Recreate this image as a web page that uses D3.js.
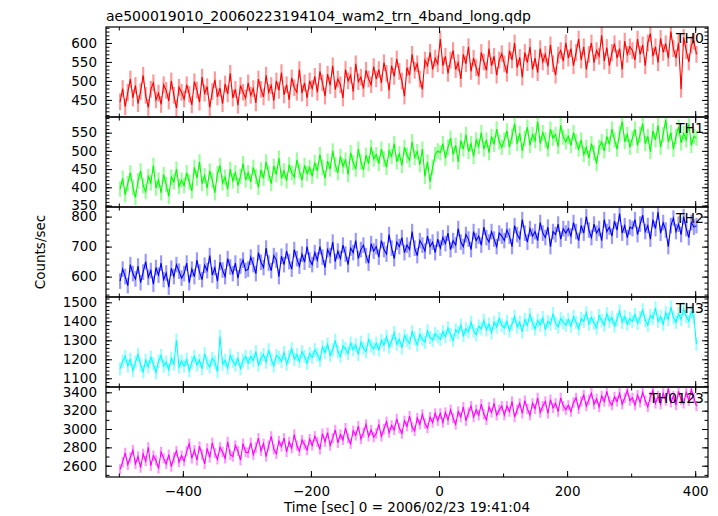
<!DOCTYPE html>
<html><head><meta charset="utf-8">
<script src="https://cdn.jsdelivr.net/npm/d3@7/dist/d3.min.js"></script>
<style>
body{margin:0;background:#fff}
svg{display:block}
text{font-family:"DejaVu Sans",sans-serif;fill:#000}
</style>
</head><body>
<svg id="chart" width="718" height="516"></svg>
<script>
const chartTitle = "ae500019010_20060223194104_wam2_trn_4band_long.qdp";
const xAxisTitle = "Time [sec] 0 = 2006/02/23 19:41:04";
const yAxisTitle = "Counts/sec";
const bandNames = ["TH0", "TH1", "TH2", "TH3", "TH0123"];
const timeStart = -498, binWidth = 4;

const th0Values = [
445,480,432,470,505,455,488,440,472,515,462,430,478,495,450,468,438,490,475,447,500,462,428,483,470,
452,490,465,437,498,476,444,510,468,485,430,472,503,458,481,440,492,466,520,455,478,436,488,470,455,
495,462,480,442,505,478,458,515,470,488,448,500,475,522,463,490,450,508,482,470,530,468,495,455,500,
480,512,470,525,495,460,518,488,540,477,505,490,455,530,500,515,472,545,498,510,480,528,505,490,538,
505,530,495,548,520,475,540,512,558,525,500,460,535,515,570,528,545,505,478,555,540,575,530,560,545,
610,540,565,520,555,580,530,548,505,570,545,590,525,560,535,512,575,550,528,585,540,565,515,555,572,
545,520,580,555,600,535,562,510,575,548,590,530,560,522,585,550,570,538,595,545,515,568,580,552,600,
560,585,540,575,610,555,590,530,570,600,548,580,565,620,552,588,540,575,598,560,585,530,605,570,590,
580,555,610,570,595,540,600,625,565,590,548,612,575,598,560,630,585,560,600,478,615,580,550,595,605,
570];
const th1Values = [
395,425,380,410,440,400,372,418,445,405,388,430,412,460,398,420,385,435,408,375,428,415,450,402,420,
405,440,415,390,455,425,470,410,432,398,445,420,385,438,460,412,428,395,450,418,440,405,430,465,420,
440,415,455,430,400,448,425,470,438,410,458,435,480,425,445,418,462,440,428,475,445,420,460,438,455,
430,468,445,490,455,425,472,450,500,462,440,485,458,475,435,495,468,450,505,470,448,488,465,510,478,
490,465,505,478,455,500,485,520,470,492,460,510,488,475,525,482,498,462,505,430,470,415,455,490,500,
495,520,480,510,535,490,515,470,528,505,545,498,520,485,530,512,550,505,530,495,540,518,560,525,510,
530,555,510,540,575,520,548,500,535,565,515,545,528,580,520,550,530,505,560,535,545,512,570,538,525,
540,515,550,525,505,530,490,510,480,520,495,465,510,525,500,540,518,560,530,505,548,580,525,545,510,
535,560,515,545,575,520,540,498,555,530,570,510,545,585,525,550,505,540,565,522,548,530,575,515,540,
535];
const th2Values = [
585,625,600,570,640,610,592,635,580,615,650,598,620,575,630,605,645,590,612,565,628,600,640,618,595,
610,645,580,625,600,655,615,590,638,620,670,605,630,585,648,622,600,660,632,610,645,595,635,655,620,
625,665,640,610,680,648,630,695,645,620,670,655,600,668,640,685,650,625,690,660,635,675,648,700,655,
640,680,655,700,665,630,690,670,715,650,685,660,705,675,640,695,680,720,660,690,705,670,645,710,685,
700,665,720,690,675,740,695,660,715,700,730,680,705,690,750,695,670,720,705,685,735,700,715,680,725,
695,730,710,745,690,720,705,760,715,700,740,725,690,750,720,735,705,765,730,715,750,725,700,745,735,
720,755,735,700,770,740,725,790,745,715,760,735,750,720,780,745,730,765,700,750,740,775,725,760,745,
760,735,780,750,720,770,745,800,755,730,775,745,760,720,790,750,765,735,785,755,810,745,770,730,765,
760,790,740,775,805,750,770,725,790,760,815,745,780,755,700,770,795,750,775,740,800,760,730,780,765,
770];
const th3Values = [
1150,1190,1215,1165,1200,1140,1185,1225,1170,1135,1195,1160,1210,1175,1130,1190,1220,1165,1185,1145,1205,1175,1300,1160,1190,
1165,1200,1140,1185,1215,1170,1195,1150,1230,1180,1160,1205,1185,1135,1320,1175,1195,1155,1220,1190,1170,1205,1150,1195,1215,
1180,1215,1195,1240,1170,1205,1225,1185,1250,1200,1165,1220,1210,1190,1235,1175,1215,1255,1200,1225,1190,1240,1215,1180,1230,
1210,1250,1225,1195,1265,1235,1280,1220,1250,1300,1240,1215,1270,1255,1230,1285,1250,1275,1225,1290,1260,1240,1305,1270,1255,
1285,1250,1300,1275,1320,1265,1295,1340,1280,1305,1260,1325,1300,1285,1345,1310,1275,1330,1305,1290,1350,1315,1300,1335,1320,
1305,1345,1320,1365,1330,1300,1355,1340,1380,1325,1360,1345,1395,1350,1330,1375,1360,1405,1355,1385,1340,1395,1370,1415,1380,
1365,1400,1350,1385,1425,1370,1395,1345,1410,1380,1435,1390,1360,1405,1380,1420,1355,1400,1385,1440,1390,1370,1415,1395,1380,
1410,1375,1425,1395,1360,1415,1400,1445,1385,1420,1390,1365,1430,1405,1380,1440,1400,1420,1375,1410,1455,1395,1425,1385,1415,
1400,1435,1390,1420,1460,1405,1380,1430,1415,1470,1400,1425,1385,1445,1410,1475,1420,1395,1440,1410,1465,1425,1400,1450,1420,
1280];
const th0123Values = [
2560,2640,2740,2610,2690,2770,2620,2700,2580,2730,2650,2800,2600,2710,2660,2570,2750,2680,2620,2720,2590,2690,2760,2640,2710,
2650,2760,2840,2680,2770,2660,2810,2720,2620,2790,2690,2850,2740,2670,2800,2750,2680,2860,2720,2700,2820,2760,2660,2840,2750,
2740,2850,2720,2800,2900,2760,2840,2700,2820,2920,2780,2730,2870,2810,2900,2750,2860,2790,2940,2820,2760,2880,2830,2770,2890,
2820,2920,2860,2780,2950,2860,2960,2820,2900,2990,2850,2940,2880,3010,2900,2840,2980,2930,3030,2890,2960,3050,2920,2990,2910,
2950,3050,2920,3000,3080,2960,3040,2990,3110,3010,2950,3090,3030,3140,3020,2980,3120,3050,3160,3060,3010,3130,3070,3170,3090,
3170,3070,3180,3100,3210,3120,3050,3190,3130,3240,3090,3180,3250,3130,3210,3150,3270,3160,3100,3240,3180,3280,3150,3210,3250,
3150,3250,3190,3300,3130,3210,3280,3170,3310,3220,3150,3280,3220,3340,3180,3250,3300,3170,3320,3230,3280,3190,3340,3250,3210,
3260,3190,3290,3340,3220,3300,3370,3250,3320,3390,3270,3330,3240,3360,3300,3410,3300,3260,3350,3300,3390,3270,3340,3420,3310,
3340,3260,3370,3290,3400,3310,3240,3350,3420,3280,3360,3270,3390,3310,3440,3290,3360,3260,3410,3320,3280,3400,3310,3430,3340,
3250];
const errorHalfWidths = [22, 21, 26, 35, 56];

const xDomain = [-520, 420];
const xTickValues = [-400, -200, 0, 200, 400];
const xTickLabels = ["\u2212400", "\u2212200", "0", "200", "400"];
const xMinorStep = 100;
const yDomains = [[405, 642], [346, 593], [532, 832], [1054, 1528], [2477, 3458]];
const yTickValues = [
  [450, 500, 550, 600],
  [350, 400, 450, 500, 550],
  [600, 700, 800],
  [1100, 1200, 1300, 1400, 1500],
  [2600, 2800, 3000, 3200, 3400]
];
const yTickLabels = [
  ["450", "500", "550", "600"],
  ["350", "400", "450", "500", "550"],
  ["600", "700", "800"],
  ["1100", "1200", "1300", "1400", "1500"],
  ["2600", "2800", "3000", "3200", "3400"]
];
const yMinorSteps = [10, 10, 20, 20, 100];

// ---- styles / layout ----
const seriesValues = [th0Values, th1Values, th2Values, th3Values, th0123Values];
const colors = ["#ff0000", "#00ff00", "#0000ff", "#00ffff", "#ff00ff"];
const W = 718, H = 516;
const margin = {left: 106, right: 10, top: 27, bottom: 39};
const pw = W - margin.left - margin.right;
const panelCount = bandNames.length;
const ph = (H - margin.top - margin.bottom) / panelCount;

const svg = d3.select("#chart");
const x = d3.scaleLinear().domain(xDomain).range([0, pw]);

function minorTicks(domain, step) {
  const out = [];
  for (let v = Math.ceil(domain[0] / step) * step; v <= domain[1]; v += step) out.push(v);
  return out;
}
const xMinor = minorTicks(xDomain, xMinorStep);

svg.append("text")
  .attr("x", margin.left).attr("y", 21)
  .style("font-size", "14px")
  .text(chartTitle);

seriesValues.forEach((vals, i) => {
  const g = svg.append("g").attr("transform", `translate(${margin.left},${margin.top + i * ph})`);
  const y = d3.scaleLinear().domain(yDomains[i]).range([ph, 0]);
  const pts = vals.map((v, k) => ({t: timeStart + k * binWidth, v}));
  const clipId = "clip" + i;
  g.append("clipPath").attr("id", clipId).append("rect").attr("width", pw).attr("height", ph);
  const data = g.append("g").attr("clip-path", `url(#${clipId})`);
  const e = errorHalfWidths[i];
  data.selectAll("line.err").data(pts).join("line")
    .attr("class", "err")
    .attr("x1", d => x(d.t)).attr("x2", d => x(d.t))
    .attr("y1", d => y(d.v - e)).attr("y2", d => y(d.v + e))
    .attr("stroke", colors[i]).attr("stroke-opacity", 0.4).attr("stroke-width", 2.2);
  data.append("path").datum(pts)
    .attr("fill", "none").attr("stroke", colors[i]).attr("stroke-width", 1.1)
    .attr("d", d3.line().x(d => x(d.t)).y(d => y(d.v)));

  // ticks
  const yMinor = minorTicks(yDomains[i], yMinorSteps[i]);
  const axisStyle = sel => { sel.select(".domain").remove(); sel.selectAll("line").attr("stroke", "#000"); };
  g.append("g").call(d3.axisLeft(y).tickValues(yMinor).tickSize(-3.5).tickFormat("")).call(axisStyle);
  g.append("g").call(d3.axisLeft(y).tickValues(yTickValues[i]).tickSize(-6).tickPadding(9)
      .tickFormat((d, k) => yTickLabels[i][k])).call(axisStyle)
    .selectAll("text").style("font-size", "13.5px").attr("font-family", null);
  g.append("g").attr("transform", `translate(${pw},0)`).call(d3.axisRight(y).tickValues(yMinor).tickSize(-3.5).tickFormat("")).call(axisStyle);
  g.append("g").attr("transform", `translate(${pw},0)`).call(d3.axisRight(y).tickValues(yTickValues[i]).tickSize(-6).tickFormat("")).call(axisStyle);
  g.append("g").call(d3.axisTop(x).tickValues(xMinor).tickSize(-3.5).tickFormat("")).call(axisStyle);
  g.append("g").call(d3.axisTop(x).tickValues(xTickValues).tickSize(-6).tickFormat("")).call(axisStyle);
  g.append("g").attr("transform", `translate(0,${ph})`).call(d3.axisBottom(x).tickValues(xMinor).tickSize(-3.5).tickFormat("")).call(axisStyle);
  const bottom = g.append("g").attr("transform", `translate(0,${ph})`)
    .call(d3.axisBottom(x).tickValues(xTickValues).tickSize(-6).tickPadding(9)
      .tickFormat((d, k) => i === panelCount - 1 ? xTickLabels[k] : ""))
    .call(axisStyle);
  bottom.selectAll("text").style("font-size", "13.5px").attr("font-family", null);

  g.append("rect").attr("width", pw).attr("height", ph)
    .attr("fill", "none").attr("stroke", "#000").attr("stroke-width", 1.2);

  g.append("text")
    .attr("x", pw - 4).attr("y", 16)
    .attr("text-anchor", "end")
    .style("font-size", "14px")
    .text(bandNames[i]);
});

svg.append("text")
  .attr("x", margin.left + pw / 2).attr("y", 512)
  .attr("text-anchor", "middle")
  .style("font-size", "13.5px")
  .text(xAxisTitle);

svg.append("text")
  .attr("transform", `translate(45,${margin.top + ph * panelCount / 2}) rotate(-90)`)
  .attr("text-anchor", "middle")
  .style("font-size", "13.5px")
  .text(yAxisTitle);
</script>
</body></html>
